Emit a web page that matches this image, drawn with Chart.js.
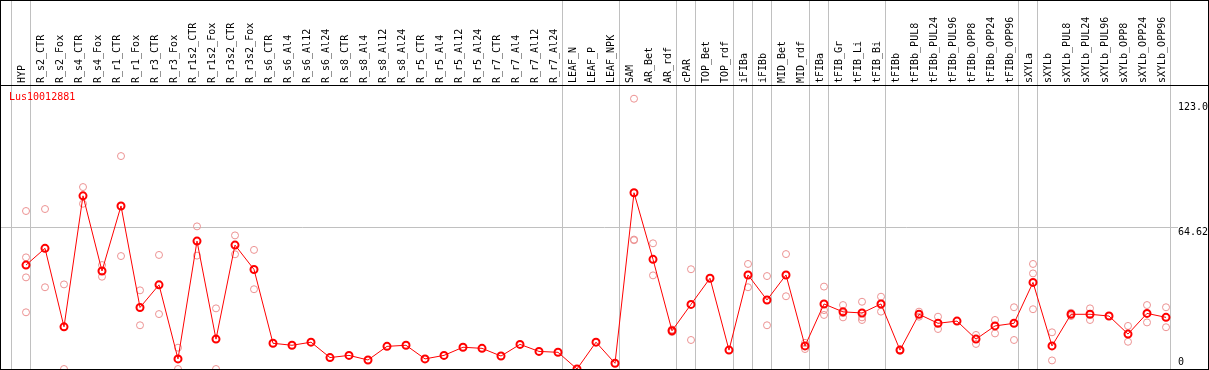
<!DOCTYPE html>
<html><head><meta charset="utf-8">
<script src="https://cdn.jsdelivr.net/npm/chart.js@4.4.1/dist/chart.umd.min.js"></script>
<style>
html,body{margin:0;padding:0;background:#fff;}
#box{position:absolute;left:0;top:0;width:1207px;height:368px;border:1px solid #000;overflow:hidden;background:#fff;}
#c{display:block;}
#gene{position:absolute;left:8px;top:91px;font-family:'DejaVu Sans Mono',monospace;font-size:10px;line-height:10px;color:#f00;white-space:nowrap;}
</style></head><body>
<div id="box"><canvas id="c" width="1207" height="368"></canvas><div id="gene">Lus10012881</div></div>
<script>
const geneName = 'Lus10012881';
const categories = ['HYP','R_s2_CTR','R_s2_Fox','R_s4_CTR','R_s4_Fox','R_r1_CTR','R_r1_Fox','R_r3_CTR','R_r3_Fox',
  'R_r1s2_CTR','R_r1s2_Fox','R_r3s2_CTR','R_r3s2_Fox','R_s6_CTR','R_s6_Al4','R_s6_Al12','R_s6_Al24',
  'R_s8_CTR','R_s8_Al4','R_s8_Al12','R_s8_Al24','R_r5_CTR','R_r5_Al4','R_r5_Al12','R_r5_Al24',
  'R_r7_CTR','R_r7_Al4','R_r7_Al12','R_r7_Al24','LEAF_N','LEAF_P','LEAF_NPK','SAM','AR_Bet','AR_rdf',
  'cPAR','TOP_Bet','TOP_rdf','iFIBa','iFIBb','MID_Bet','MID_rdf','tFIBa','tFIB_Gr','tFIB_Li','tFIB_Bi',
  'tFIBb','tFIBb_PUL8','tFIBb_PUL24','tFIBb_PUL96','tFIBb_OPP8','tFIBb_OPP24','tFIBb_OPP96',
  'sXYLa','sXYLb','sXYLb_PUL8','sXYLb_PUL24','sXYLb_PUL96','sXYLb_OPP8','sXYLb_OPP24','sXYLb_OPP96'];
const meanValues = [47.3,54.9,19.2,78.8,44.6,74.2,28.0,38.3,4.6,
  58.2,13.6,56.4,45.3,11.7,10.8,12.2,5.2,
  6.2,4.1,10.3,10.8,4.6,6.2,9.9,9.4,
  5.9,11.2,8.0,7.6,0,12.2,2.6,80.2,49.9,17.4,
  29.4,41.3,8.6,42.8,31.4,42.8,10.5,29.6,26.0,25.5,29.6,
  8.6,24.9,20.8,21.8,13.6,19.6,20.8,
  39.4,10.5,24.9,24.9,24.1,15.9,25.3,23.5];
const replicateValues = [
  [71.9,50.8,41.7,25.8],[72.8,37.2],[38.5,0],[82.8,75.2],[47.3,42.0],[96.9,51.4],[35.8,19.9],[51.9,25.0],[9.7,0],
  [64.9,51.6],[27.6,0],[60.8,52.2],[54.2,36.3],[],[],[],[],
  [],[],[],[],[],[],[],[],
  [],[],[],[],[],[],[],[123.0,58.9,58.6],[57.2,42.6],[18.0,16.8],
  [45.4,13.2],[],[],[47.8,37.2],[42.3,19.9],[52.3,33.1],[11.9,9.1],[37.5,26.8,24.6],[29.1,23.5,25.4],[30.6,23.5,22.3],[32.9,26.1],
  [8.9,8.3],[26.1,23.8],[23.8,18.2],[],[15.5,11.4],[22.3,16.2],[28.1,13.2],
  [47.8,43.5,27.2],[16.7,3.9],[25.6,24.1],[27.6,22.3],[],[19.6,12.4],[29.1,21.2],[28.1,19.0]];
const groupEnds = [-1,0,28,31,34,35,37,38,39,41,42,45,52,53,60];
const yTickValues = [0,64.62,123.0];
const yTickLabels = ['0','64.62','123.0'];
const yMax = 129.24;

const meanPoints = meanValues.map((v,i)=>({x:i,y:v}));
const repPoints = [];
replicateValues.forEach((arr,i)=>arr.forEach(v=>repPoints.push({x:i,y:v})));

const X_MIN = -25/19, X_MAX = 1182/19, SEP = 0.23;
const MONO = "'DejaVu Sans Mono', monospace";
function zeroPad(s){ s.paddingLeft = 0; s.paddingRight = 0; s.paddingTop = 0; s.paddingBottom = 0; }
// vertical placement of each y label relative to its value line
const yLabelShift = {0:{lines:'up',lh:14}, 64.62:{lines:'down',lh:11}, 123:{lines:'down',lh:17}};

new Chart(document.getElementById('c'), {
  type: 'line',
  data: { datasets: [
    { label: geneName, data: meanPoints, borderColor:'#ff0000', borderWidth:1, tension:0,
      pointRadius:3.5, pointBorderWidth:2, pointBorderColor:'#ff0000', pointBackgroundColor:'rgba(0,0,0,0)',
      order:0, xAxisID:'x', yAxisID:'y' },
    { label: 'replicates', data: repPoints, showLine:false,
      pointRadius:3.5, pointBorderWidth:1, pointBorderColor:'rgb(236,146,146)', pointBackgroundColor:'rgba(0,0,0,0)',
      order:1, xAxisID:'x', yAxisID:'y' }
  ]},
  options: {
    responsive:false, animation:false, events:[],
    layout:{padding:0, autoPadding:false},
    plugins:{legend:{display:false}, tooltip:{enabled:false}, title:{display:false}},
    scales: {
      x: { type:'linear', position:'top', min:X_MIN, max:X_MAX, weight:1,
        afterBuildTicks: s => { s.ticks = categories.map((c,i)=>({value:i})); },
        afterFit: s => { s.height = 84; zeroPad(s); },
        grid:{display:false, drawTicks:false},
        border:{display:true, color:'#000', width:1},
        ticks:{autoSkip:false, minRotation:90, maxRotation:90, padding:2, color:'#000',
          font:{family:MONO, size:10, lineHeight:'4px'},
          callback:(v)=> categories[Math.round(v)] ?? ''}
      },
      x2: { type:'linear', position:'top', min:X_MIN, max:X_MAX, weight:0,
        afterBuildTicks: s => { s.ticks = groupEnds.map(g=>({value:g+SEP})); },
        afterFit: s => { s.height = 0; zeroPad(s); },
        grid:{display:true, color:'#c0c0c0', lineWidth:1, drawTicks:true, tickLength:84},
        border:{display:false},
        ticks:{display:false}
      },
      y: { type:'linear', position:'left', min:0, max:yMax,
        afterBuildTicks: s => { s.ticks = yTickValues.map(v=>({value:v})); },
        afterFit: s => { s.width = 0; zeroPad(s); },
        grid:{ color: ctx => (ctx.tick && ctx.tick.value === 64.62) ? '#c0c0c0' : 'rgba(0,0,0,0)', drawTicks:false, lineWidth:1 },
        border:{display:false},
        ticks:{ mirror:true, padding:1177, color:'#000', autoSkip:false,
          showLabelBackdrop: ctx => !!(ctx.tick && ctx.tick.value === 64.62),
          backdropColor:'#ffffff', backdropPadding:0,
          font: ctx => ({family:MONO, size:10, lineHeight: ((ctx.tick && yLabelShift[ctx.tick.value]) ? yLabelShift[ctx.tick.value].lh : 12) + 'px'}),
          callback: (v) => { const k = yTickValues.indexOf(v); const lab = k >= 0 ? yTickLabels[k] : '';
            const sh = yLabelShift[v]; if (!sh) return lab; return sh.lines === 'up' ? [lab, ''] : ['', lab]; }
        }
      }
    }
  }
});
</script>
</body></html>
